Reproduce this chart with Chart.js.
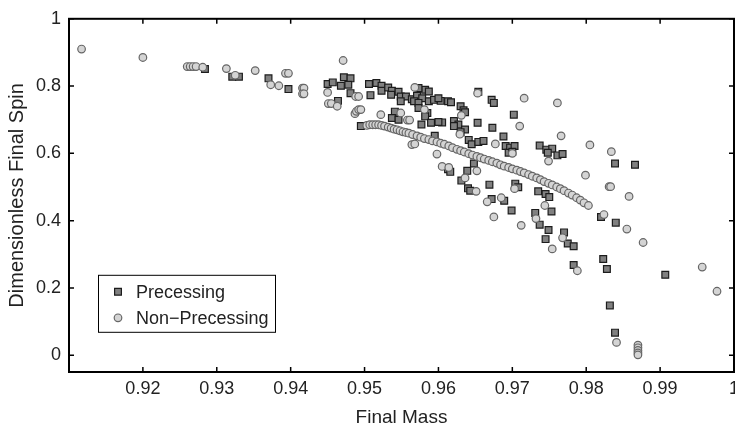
<!DOCTYPE html>
<html>
<head>
<meta charset="utf-8">
<script src="https://cdn.jsdelivr.net/npm/chart.js@4.4.1/dist/chart.umd.min.js"></script>
<style>
  html, body { margin: 0; padding: 0; background: #fff; overflow: hidden; }
  #wrap { width: 745px; height: 427px; }
</style>
</head>
<body>
<div id="wrap"><canvas id="c" width="745" height="427"></canvas></div>
<script>
// Tick positions on each axis
const xTickValues = [0.92, 0.93, 0.94, 0.95, 0.96, 0.97, 0.98, 0.99, 1.0];
const yTickValues = [0, 0.2, 0.4, 0.6, 0.8, 1.0];

// Precessing runs: final mass and dimensionless final spin
const precessingMass = [
  0.9284, 0.9321, 0.9330, 0.9370, 0.9397, 0.9450, 0.9457, 0.9472, 0.9481, 0.9468,
  0.9478, 0.9464, 0.9481, 0.9495, 0.9506, 0.9516, 0.9523, 0.9508, 0.9523, 0.9532,
  0.9537, 0.9536, 0.9546, 0.9549, 0.9556, 0.9549, 0.9564, 0.9571, 0.9578, 0.9582,
  0.9573, 0.9587, 0.9567, 0.9573, 0.9573, 0.9587, 0.9594, 0.9603, 0.9613, 0.9585,
  0.9582, 0.9541, 0.9537, 0.9546, 0.9577, 0.9590, 0.9605, 0.9595, 0.9613, 0.9600,
  0.9617, 0.9630, 0.9634, 0.9636, 0.9654, 0.9672, 0.9675, 0.9702, 0.9600, 0.9621,
  0.9627, 0.9621, 0.9636, 0.9630, 0.9653, 0.9673, 0.9688, 0.9641, 0.9645, 0.9654,
  0.9661, 0.9691, 0.9697, 0.9703, 0.9695, 0.9700, 0.9737, 0.9746, 0.9754, 0.9748,
  0.9761, 0.9768, 0.9616, 0.9639, 0.9648, 0.9631, 0.9640, 0.9643, 0.9669, 0.9704,
  0.9708, 0.9672, 0.9689, 0.9735, 0.9745, 0.9750, 0.9699, 0.9753, 0.9731, 0.9737,
  0.9749, 0.9745, 0.9770, 0.9775, 0.9783, 0.9783, 0.9839, 0.9866, 0.9820, 0.9840,
  0.9823, 0.9828, 0.9907, 0.9832, 0.9839
];
const precessingSpin = [
  0.851, 0.828, 0.828, 0.823, 0.791, 0.806, 0.811, 0.826, 0.823, 0.801,
  0.804, 0.756, 0.779, 0.681, 0.806, 0.809, 0.801, 0.773, 0.786, 0.796,
  0.786, 0.774, 0.783, 0.769, 0.769, 0.755, 0.761, 0.771, 0.764, 0.789,
  0.794, 0.784, 0.755, 0.750, 0.735, 0.755, 0.759, 0.756, 0.755, 0.720,
  0.710, 0.724, 0.705, 0.700, 0.686, 0.691, 0.692, 0.652, 0.553, 0.764,
  0.752, 0.740, 0.728, 0.722, 0.783, 0.759, 0.750, 0.715, 0.693, 0.696,
  0.686, 0.681, 0.671, 0.663, 0.691, 0.676, 0.650, 0.640, 0.627, 0.634,
  0.637, 0.622, 0.617, 0.622, 0.602, 0.605, 0.623, 0.611, 0.614, 0.602,
  0.594, 0.598, 0.545, 0.548, 0.570, 0.519, 0.496, 0.489, 0.507, 0.510,
  0.499, 0.464, 0.459, 0.487, 0.479, 0.470, 0.430, 0.427, 0.423, 0.388,
  0.372, 0.345, 0.365, 0.332, 0.324, 0.268, 0.570, 0.566, 0.411, 0.394,
  0.286, 0.256, 0.239, 0.148, 0.067
];

// Non-precessing runs: final mass and dimensionless final spin
const nonPrecessingMass = [
  0.9117, 0.9200, 0.9260, 0.9264, 0.9268, 0.9272, 0.9281, 0.9313, 0.9325, 0.9352,
  0.9393, 0.9397, 0.9373, 0.9384, 0.9416, 0.9418, 0.9416, 0.9418, 0.9450, 0.9451,
  0.9455, 0.9463, 0.9471, 0.9488, 0.9492, 0.9487, 0.9489, 0.9492, 0.9495, 0.9522,
  0.9568, 0.9549, 0.9558, 0.9561, 0.9581, 0.9564, 0.9568, 0.9598, 0.9605, 0.9614,
  0.9631, 0.9653, 0.9629, 0.9677, 0.9700, 0.9716, 0.9761, 0.9710, 0.9766, 0.9749,
  0.9652, 0.9636, 0.9651, 0.9666, 0.9685, 0.9703, 0.9675, 0.9712, 0.9744, 0.9732,
  0.9754, 0.9768, 0.9788, 0.9805, 0.9834, 0.9799, 0.9831, 0.9833, 0.9858, 0.9824,
  0.9855, 0.9877, 0.9957, 0.9977, 0.9841, 0.9870, 0.9870, 0.9870, 0.9870, 0.9870,
  // equal-mass-ratio sequence
  0.9503, 0.9507, 0.9511, 0.9515, 0.9519, 0.9523, 0.9527, 0.9532, 0.9536, 0.9540,
  0.9544, 0.9548, 0.9552, 0.9556, 0.9560, 0.9565, 0.9571, 0.9576, 0.9581, 0.9587,
  0.9592, 0.9598, 0.9603, 0.9608, 0.9614, 0.9619, 0.9625, 0.9630, 0.9635, 0.9641,
  0.9646, 0.9652, 0.9657, 0.9662, 0.9668, 0.9673, 0.9679, 0.9684, 0.9689, 0.9695,
  0.9700, 0.9706, 0.9711, 0.9716, 0.9722, 0.9727, 0.9733, 0.9738, 0.9743, 0.9749,
  0.9754, 0.9760, 0.9765, 0.9770, 0.9776, 0.9781, 0.9787, 0.9792, 0.9797, 0.9803
];
const nonPrecessingSpin = [
  0.910, 0.885, 0.858, 0.858, 0.858, 0.858, 0.856, 0.852, 0.832, 0.846,
  0.838, 0.838, 0.804, 0.801, 0.794, 0.794, 0.777, 0.777, 0.781, 0.748,
  0.748, 0.740, 0.876, 0.769, 0.769, 0.718, 0.725, 0.730, 0.730, 0.715,
  0.796, 0.720, 0.699, 0.699, 0.730, 0.626, 0.628, 0.598, 0.561, 0.558,
  0.713, 0.779, 0.657, 0.628, 0.600, 0.764, 0.750, 0.681, 0.652, 0.577,
  0.548, 0.527, 0.487, 0.456, 0.468, 0.495, 0.411, 0.386, 0.445, 0.406,
  0.316, 0.349, 0.251, 0.625, 0.605, 0.535, 0.501, 0.501, 0.472, 0.418,
  0.375, 0.335, 0.262, 0.190, 0.038, 0.030, 0.022, 0.014, 0.007, 0.001,
  // equal-mass-ratio sequence
  0.683, 0.685, 0.685, 0.685, 0.685, 0.683, 0.681, 0.678, 0.675, 0.672,
  0.670, 0.667, 0.664, 0.662, 0.660, 0.656, 0.652, 0.648, 0.644, 0.641,
  0.637, 0.634, 0.630, 0.627, 0.622, 0.617, 0.612, 0.608, 0.604, 0.599,
  0.595, 0.591, 0.587, 0.583, 0.579, 0.575, 0.571, 0.566, 0.562, 0.558,
  0.554, 0.550, 0.546, 0.542, 0.537, 0.532, 0.527, 0.522, 0.516, 0.511,
  0.506, 0.500, 0.495, 0.489, 0.482, 0.476, 0.468, 0.461, 0.453, 0.445
];

const toPoints = (xs, ys) => xs.map((v, i) => ({ x: v, y: ys[i] }));

const FONT = "'Liberation Sans', Arial, Helvetica, sans-serif";
Chart.defaults.font.family = FONT;
Chart.defaults.color = '#222';

// Box around the plot with inward ticks on all four sides
const framePlugin = {
  id: 'frame',
  afterDatasetsDraw(chart) {
    const { ctx, chartArea: a, scales: { x, y } } = chart;
    const len = 5;
    ctx.save();
    ctx.strokeStyle = '#000';
    ctx.lineWidth = 1.5;
    ctx.beginPath();
    xTickValues.forEach(v => {
      const px = x.getPixelForValue(v);
      ctx.moveTo(px, a.bottom); ctx.lineTo(px, a.bottom - len);
      ctx.moveTo(px, a.top);    ctx.lineTo(px, a.top + len);
    });
    yTickValues.forEach(v => {
      const py = y.getPixelForValue(v);
      ctx.moveTo(a.left, py);  ctx.lineTo(a.left + len, py);
      ctx.moveTo(a.right, py); ctx.lineTo(a.right - len, py);
    });
    ctx.stroke();
    ctx.lineWidth = 2;
    ctx.strokeRect(a.left, a.top, a.right - a.left, a.bottom - a.top);
    ctx.restore();
  }
};

// Boxed legend in the lower-left of the plot
const boxLegendPlugin = {
  id: 'boxLegend',
  afterDraw(chart) {
    const { ctx, chartArea: a } = chart;
    const bx = a.left + 29, by = a.top + 256, bw = 177, bh = 57;
    ctx.save();
    ctx.fillStyle = '#fff';
    ctx.fillRect(bx, by, bw, bh);
    ctx.strokeStyle = '#000';
    ctx.lineWidth = 1;
    ctx.strokeRect(bx + 0.5, by + 0.5, bw, bh);
    chart.data.datasets.slice().reverse().forEach((ds, i) => {
      const cy = by + 17 + i * 26;
      const mx = bx + 20;
      ctx.fillStyle = ds.backgroundColor;
      ctx.strokeStyle = ds.borderColor;
      ctx.lineWidth = ds.borderWidth;
      Chart.helpers.drawPoint(ctx, { pointStyle: ds.pointStyle, radius: ds.pointRadius, borderWidth: ds.borderWidth, rotation: 0 }, mx, cy);
      ctx.fillStyle = '#222';
      ctx.font = '18px ' + FONT;
      ctx.textBaseline = 'middle';
      ctx.textAlign = 'left';
      ctx.fillText(ds.label, bx + 38, cy + 1);
    });
    ctx.restore();
  }
};

new Chart(document.getElementById('c'), {
  type: 'scatter',
  data: {
    datasets: [
      {
        label: 'Non\u2212Precessing',
        data: toPoints(nonPrecessingMass, nonPrecessingSpin),
        pointStyle: 'circle',
        pointRadius: 3.8,
        borderWidth: 1.2,
        backgroundColor: '#d4d4d4',
        borderColor: '#666'
      },
      {
        label: 'Precessing',
        data: toPoints(precessingMass, precessingSpin),
        pointStyle: 'rect',
        pointRadius: 4.8,
        borderWidth: 1.2,
        backgroundColor: '#808080',
        borderColor: '#1c1c1c'
      }
    ]
  },
  options: {
    responsive: false,
    devicePixelRatio: 1,
    animation: false,
    events: [],
    layout: { autoPadding: false, padding: { top: 15, right: 9, bottom: 0, left: 0 } },
    plugins: { legend: { display: false }, tooltip: { enabled: false } },
    scales: {
      x: {
        type: 'linear',
        min: 0.91,
        max: 1.0,
        afterBuildTicks: s => { s.ticks = xTickValues.map(v => ({ value: v })); },
        afterFit: s => { s.height = 55; },
        grid: { display: false, drawTicks: false },
        border: { display: false },
        ticks: {
          autoSkip: false,
          maxRotation: 0,
          padding: 6,
          font: { size: 18 },
          callback: v => (v === 1 ? '1' : v.toFixed(2))
        },
        title: { display: true, text: 'Final Mass', font: { size: 19, lineHeight: 1 }, padding: { top: 0, bottom: 0 } }
      },
      y: {
        type: 'linear',
        min: -0.05,
        max: 1.0,
        afterBuildTicks: s => { s.ticks = yTickValues.map(v => ({ value: v })); },
        afterFit: s => { s.width = 69; },
        grid: { display: false, drawTicks: false },
        border: { display: false },
        ticks: {
          autoSkip: false,
          padding: 8,
          font: { size: 18 },
          callback: v => (v === 0 ? '0' : v === 1 ? '1' : v.toFixed(1))
        },
        title: { display: true, text: 'Dimensionless Final Spin', font: { size: 20, lineHeight: 1.2 }, padding: { top: 5, bottom: 0 } }
      }
    }
  },
  plugins: [framePlugin, boxLegendPlugin]
});
</script>
</body>
</html>
